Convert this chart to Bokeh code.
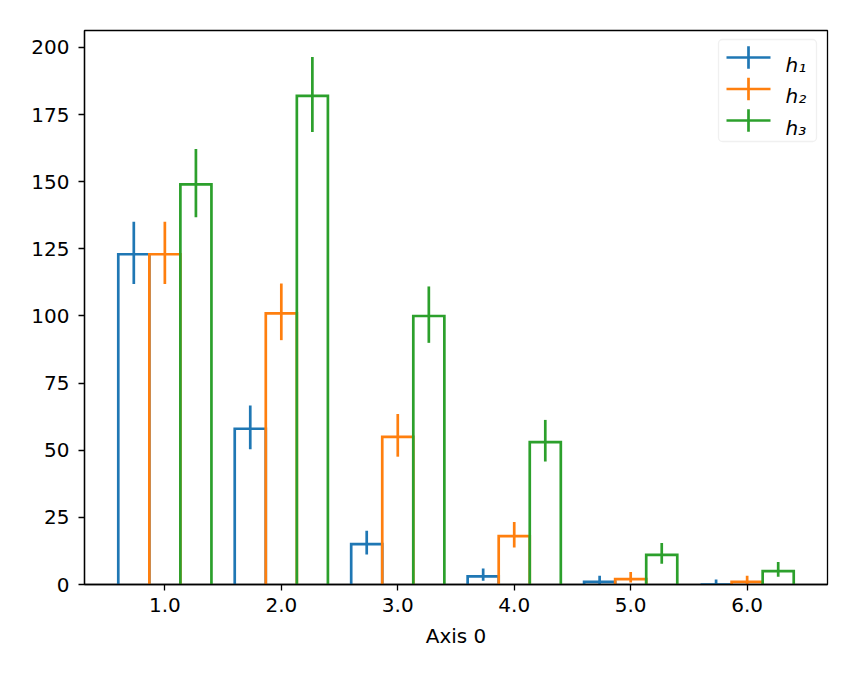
import numpy as np
from bokeh.plotting import figure
from bokeh.models import Range1d, FixedTicker, BoxAnnotation, Label
from bokeh.embed import file_html
from bokeh.resources import INLINE

# ---- data ----
categories = [1, 2, 3, 4, 5, 6]
tick_labels = ["1.0", "2.0", "3.0", "4.0", "5.0", "6.0"]
y_ticks = [0, 25, 50, 75, 100, 125, 150, 175, 200]

h1 = [123, 58, 15, 3, 1, 0]
h2 = [123, 101, 55, 18, 2, 1]
h3 = [149, 182, 100, 53, 11, 5]

h1_lo = [111.9, 50.4, 11.2, 1.37, 0.17, 0.0]
h1_hi = [135.1, 66.7, 20.0, 5.92, 3.30, 1.84]
h2_lo = [111.9, 91.0, 47.6, 13.8, 0.71, 0.17]
h2_hi = [135.1, 112.1, 63.5, 23.3, 4.64, 3.30]
h3_lo = [136.8, 168.5, 90.0, 45.8, 7.74, 2.84]
h3_hi = [162.2, 196.5, 111.0, 61.3, 15.41, 8.38]

names = ["h\u2081", "h\u2082", "h\u2083"]
colors = ["#1f77b4", "#ff7f0e", "#2ca02c"]
x_label = "Axis 0"

series = [(h1, h1_lo, h1_hi), (h2, h2_lo, h2_hi), (h3, h3_lo, h3_hi)]

# ---- geometry ----
FONT = "DejaVu Sans"
FS = "20px"
LW = 2.7
group_w = 0.8
n = len(series)
sub_w = group_w / n
cats = np.array(categories, dtype=float)

x_min = cats.min() - group_w / 2
x_max = cats.max() + group_w / 2
pad = 0.05 * (x_max - x_min)
y_top = max(max(h1_hi), max(h2_hi), max(h3_hi)) * 1.05

FRAME_L, FRAME_T, FRAME_W, FRAME_H = 84, 30, 743, 554
W, H = 841, 663

p = figure(width=W, height=H, output_backend="svg", toolbar_location=None,
           x_range=Range1d(x_min - pad, x_max + pad), y_range=Range1d(0, y_top),
           min_border_left=FRAME_L, min_border_right=W - FRAME_L - FRAME_W,
           min_border_top=FRAME_T, min_border_bottom=H - FRAME_T - FRAME_H)

p.background_fill_color = "white"
p.border_fill_color = "white"
p.xgrid.visible = False
p.ygrid.visible = False
p.outline_line_color = "black"
p.outline_line_width = 1.3
p.outline_line_alpha = 1.0

for k, ((vals, lo, hi), col) in enumerate(zip(series, colors)):
    lefts = cats - group_w / 2 + k * sub_w
    rights = lefts + sub_w
    mids = (lefts + rights) / 2
    xs = [[l, l, r, r] for l, r in zip(lefts, rights)]
    ys = [[0, v, v, 0] for v in vals]
    p.multi_line(xs=xs, ys=ys, line_color=col, line_width=LW, line_join="miter")
    p.segment(x0=mids, y0=lo, x1=mids, y1=hi, line_color=col, line_width=LW, line_cap="butt")

# ---- axes ----
p.xaxis.ticker = FixedTicker(ticks=categories)
p.xaxis.major_label_overrides = {c: t for c, t in zip(categories, tick_labels)}
p.yaxis.ticker = FixedTicker(ticks=y_ticks)
p.xaxis.axis_label = x_label
for ax in (p.xaxis, p.yaxis):
    ax.axis_line_color = "black"
    ax.axis_line_width = 1.3
    ax.major_tick_line_color = "black"
    ax.major_tick_line_width = 1.3
    ax.major_tick_in = 0
    ax.major_tick_out = 6
    ax.minor_tick_line_color = None
    ax.major_label_text_font = FONT
    ax.major_label_text_font_size = FS
    ax.major_label_text_color = "black"
    ax.axis_label_text_font = FONT
    ax.axis_label_text_font_size = FS
    ax.axis_label_text_font_style = "normal"
    ax.axis_label_text_color = "black"
p.xaxis.major_label_standoff = 7
p.yaxis.major_label_standoff = 9
p.xaxis.axis_label_standoff = 9

# ---- legend (screen units, measured from the frame's bottom-left) ----
def sy(page_y):
    return FRAME_T + FRAME_H - page_y

def sx(page_x):
    return page_x - FRAME_L

scr = dict(left_units="screen", right_units="screen", top_units="screen", bottom_units="screen")
p.add_layout(BoxAnnotation(left=sx(718), right=sx(816), top=sy(39), bottom=sy(141),
                           fill_color="white", fill_alpha=0.8,
                           line_color="#cccccc", line_width=1.3, border_radius=4, **scr))
row0 = 57.0
row_step = 31.5
half = LW / 2
for k, (name, col) in enumerate(zip(names, colors)):
    cy = sy(row0 + k * row_step)
    p.add_layout(BoxAnnotation(left=sx(726), right=sx(770), bottom=cy - half, top=cy + half,
                               fill_color=col, fill_alpha=1.0, line_alpha=0, **scr))
    p.add_layout(BoxAnnotation(left=sx(748) - half, right=sx(748) + half,
                               bottom=cy - 11.3, top=cy + 11.3,
                               fill_color=col, fill_alpha=1.0, line_alpha=0, **scr))
    p.add_layout(Label(x=sx(785), y=cy - 7, x_units="screen", y_units="screen", text=name,
                       text_font=FONT, text_font_size=FS, text_font_style="italic",
                       text_color="black", text_baseline="alphabetic", text_align="left"))

open("out.html", "w").write(file_html(p, INLINE))
